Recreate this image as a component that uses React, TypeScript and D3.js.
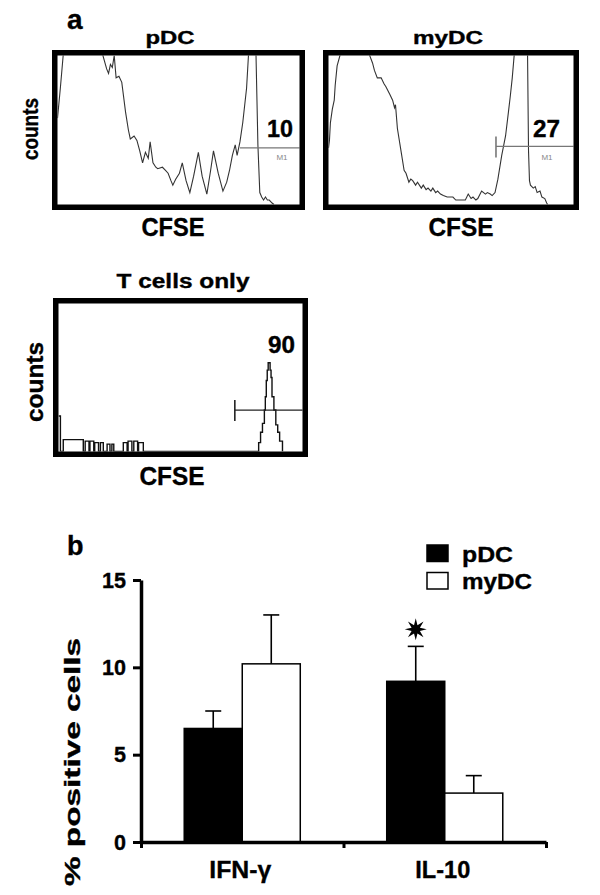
import React, { useRef, useEffect } from "react";
import * as d3 from "d3";

// CFSE histograms: [channel 0-256, counts as % of plot height (>100 = off scale)]
const pdcHist: [number, number][] = [
  [0, 58], [3, 78], [6, 100], [8, 125], [24, 130], [45, 125], [48, 100], [52, 91], [54, 88], [56, 94],
  [58, 92], [60, 100], [62, 85], [65, 86], [68, 82], [72, 62], [75, 50], [77, 44], [81, 46], [84, 43],
  [87, 36], [90, 28], [93, 35], [96, 31], [98, 42], [101, 28], [104, 25], [106, 24], [111, 25], [114, 23],
  [117, 21], [120, 16], [122, 13], [125, 17], [129, 21], [132, 28], [136, 16], [140, 8], [144, 19], [149, 35],
  [153, 19], [158, 7], [162, 23], [165, 36], [170, 21], [175, 9], [179, 15], [182, 23], [185, 33], [188, 40],
  [190, 33], [193, 42], [196, 55], [200, 78], [202, 100], [204, 125], [208, 125], [210, 100], [211, 70], [212, 40],
  [214, 8], [216, 5], [218, 3], [220, 5], [222, 3], [224, 3], [227, 1], [229, 0],
];

const mydcHist: [number, number][] = [
  [0, 38], [1, 43], [2, 55], [4, 64], [6, 70], [7, 80], [9, 93], [12, 100], [15, 125], [33, 130],
  [41, 125], [43, 100], [46, 95], [48, 90], [51, 85], [55, 85], [58, 81], [60, 79], [64, 74], [67, 70],
  [69, 65], [70, 67], [72, 51], [76, 35], [79, 23], [81, 21], [84, 15], [86, 17], [88, 16], [91, 13],
  [93, 15], [97, 11], [99, 13], [102, 10], [104, 11], [107, 9], [109, 11], [112, 8], [114, 9], [117, 7],
  [120, 6], [124, 5], [127, 5], [130, 5], [133, 3], [135, 3], [140, 3], [143, 3], [146, 7], [149, 4],
  [151, 5], [154, 3], [156, 4], [160, 9], [164, 7], [166, 8], [169, 7], [171, 6], [174, 8], [177, 17],
  [181, 33], [185, 46], [188, 62], [190, 73], [192, 85], [194, 100], [197, 125], [205, 125], [208, 100], [209, 36],
  [210, 16], [211, 13], [214, 11], [216, 12], [218, 8], [221, 9], [223, 5], [226, 4], [228, 1], [229, 0],
];

const tcellHist: [number, number][] = [
  [0, 24], [2, 0], [5, 8], [26, 0], [28, 7], [32, 0], [33, 7], [37, 0], [38, 6], [42, 0],
  [44, 6], [47, 0], [51, 5], [54, 0], [56, 5], [58, 0], [68, 6], [72, 0], [73, 7], [77, 0],
  [79, 7], [83, 0], [84, 6], [89, 0], [208, 0], [210, 6], [212, 13], [214, 19], [216, 28], [217, 37],
  [218, 48], [219, 55], [220, 60], [222, 55], [223, 50], [224, 37], [226, 28], [228, 18], [230, 13], [232, 7],
  [235, 0],
];

const panelTitles = ["pDC", "myDC", "T cells only"];
const gatePercents = ["10", "27", "90"];
const gateStarts = [193, 175, 185];
const gateLevels = [38, 39, 28];

// bar chart (panel b)
const cytokines = ["IFN-γ", "IL-10"];
const groups = ["pDC", "myDC"];
const pdcMeans = [6.5, 9.2];
const pdcErrors = [1.0, 2.0];
const mydcMeans = [10.2, 2.8];
const mydcErrors = [2.8, 1.0];
const pdcSignificant = [false, true];
const yTicks = [0, 5, 10, 15];

const FONT = "'Liberation Sans', Arial, Helvetica, sans-serif";

const addText = (sel: any, t: string, x: number, y: number, size: number, opts: any = {}) => {
  const el = sel.append("text")
    .attr("x", x)
    .attr("y", y)
    .style("font-size", `${size}px`)
    .style("font-weight", opts.weight || "bold")
    .style("font-family", FONT)
    .attr("fill", opts.fill || "#000")
    .attr("text-anchor", opts.anchor || "start")
    .text(t);
  if (!opts.weight) el.attr("stroke", "#000").attr("stroke-width", 0.35);
  if (opts.len) el.attr("textLength", opts.len).attr("lengthAdjust", "spacingAndGlyphs");
  if (opts.rotate) el.attr("transform", `rotate(-90, ${x}, ${y})`);
  return el;
};

const App = () => {
  const svgRef = useRef<SVGSVGElement>(null);

  useEffect(() => {
    const svg = d3.select(svgRef.current);
    svg.selectAll("*").remove();

    // ---------- panel a: histograms ----------
    const panels = [
      { box: [52, 50, 305, 210], data: pdcHist, step: false, lineColor: "#333", gateColor: "#777", tick: false,
        title: [170, 44, 18, 49], cfse: [173, 236, 25, 63], pct: [293, 137, 23, 26], m1: [282, 160] },
      { box: [323, 50, 579, 210], data: mydcHist, step: false, lineColor: "#333", gateColor: "#777", tick: true,
        title: [448, 44, 18, 70], cfse: [461, 236, 25, 65], pct: [560, 137, 23, 27], m1: [547, 160] },
      { box: [53, 298, 308, 457], data: tcellHist, step: true, lineColor: "#111", gateColor: "#222", tick: true,
        title: [183, 288, 20, 133], cfse: [172, 485, 25, 65], pct: [295, 353, 23, 27], m1: null },
    ];
    const bw = 5.5;

    panels.forEach((p, i) => {
      const [x0, y0, x1, y1] = p.box;
      const g = svg.append("g");
      const x = d3.scaleLinear().domain([0, 256]).range([x0 + bw, x1 - bw]);
      const y = d3.scaleLinear().domain([0, 100]).range([y1 - bw, y0 + bw]);

      const clipId = `clip-${i}`;
      svg.append("clipPath").attr("id", clipId)
        .append("rect")
        .attr("x", x0 + bw).attr("y", y0 + bw)
        .attr("width", x1 - x0 - 2 * bw).attr("height", y1 - y0 - 2 * bw);

      const line = d3.line<[number, number]>()
        .x(d => x(d[0]))
        .y(d => y(d[1]))
        .curve(p.step ? d3.curveStepAfter : d3.curveLinear);

      g.append("path")
        .datum(p.data)
        .attr("clip-path", `url(#${clipId})`)
        .attr("fill", "none")
        .attr("stroke", p.lineColor)
        .attr("stroke-width", p.step ? 1.4 : 1.1)
        .attr("d", line);

      // gate marker
      const gy = y(gateLevels[i]);
      g.append("line")
        .attr("x1", x(gateStarts[i])).attr("x2", x(256))
        .attr("y1", gy).attr("y2", gy)
        .attr("stroke", p.gateColor).attr("stroke-width", 1.2);
      if (p.tick) {
        g.append("line")
          .attr("x1", x(gateStarts[i])).attr("x2", x(gateStarts[i]))
          .attr("y1", gy - 10).attr("y2", gy + 11)
          .attr("stroke", p.gateColor).attr("stroke-width", 1.6);
      }
      if (p.m1) {
        addText(g, "M1", p.m1[0], p.m1[1], 8, { anchor: "middle", weight: "normal", fill: "#888" });
      }

      g.append("rect")
        .attr("x", x0 + bw / 2).attr("y", y0 + bw / 2)
        .attr("width", x1 - x0 - bw).attr("height", y1 - y0 - bw)
        .attr("fill", "none").attr("stroke", "#000").attr("stroke-width", bw);

      addText(g, panelTitles[i], p.title[0], p.title[1], p.title[2], { anchor: "middle", len: p.title[3] });
      addText(g, "CFSE", p.cfse[0], p.cfse[1], p.cfse[2], { anchor: "middle", len: p.cfse[3] });
      addText(g, gatePercents[i], p.pct[0], p.pct[1], p.pct[2], { anchor: "end", len: p.pct[3] });
    });

    addText(svg, "a", 67, 29, 28);
    addText(svg, "counts", 38, 129, 22, { anchor: "middle", len: 62, rotate: true });
    addText(svg, "counts", 43, 382, 23, { anchor: "middle", len: 80, rotate: true });

    // ---------- panel b: bar chart ----------
    const left = 141, right = 546, top = 580, bottom = 842;
    const y = d3.scaleLinear().domain([0, 15]).range([bottom, top]);
    const xBand = d3.scaleBand().domain(cytokines).range([left, right]).padding(0);
    const xSub = d3.scaleBand().domain(groups).range([0, xBand.bandwidth()])
      .paddingInner(0).paddingOuter(0.745);
    const xEdges = d3.scaleLinear().domain([0, cytokines.length]).range([left, right]);

    const b = svg.append("g");

    const rows = cytokines.flatMap((c, i) => [
      { c, s: "pDC", v: pdcMeans[i], e: pdcErrors[i], star: pdcSignificant[i] },
      { c, s: "myDC", v: mydcMeans[i], e: mydcErrors[i], star: false },
    ]);

    const capW = 16;
    rows.forEach(r => {
      const bx = (xBand(r.c) as number) + (xSub(r.s) as number);
      const cx = bx + xSub.bandwidth() / 2;
      // error bar
      b.append("line").attr("x1", cx).attr("x2", cx)
        .attr("y1", y(r.v - r.e)).attr("y2", y(r.v + r.e))
        .attr("stroke", "#000").attr("stroke-width", 1.6);
      [r.v - r.e, r.v + r.e].forEach(v => {
        b.append("line").attr("x1", cx - capW / 2).attr("x2", cx + capW / 2)
          .attr("y1", y(v)).attr("y2", y(v))
          .attr("stroke", "#000").attr("stroke-width", 1.6);
      });
      b.append("rect")
        .attr("x", bx).attr("y", y(r.v))
        .attr("width", xSub.bandwidth()).attr("height", y(0) - y(r.v))
        .attr("fill", r.s === "pDC" ? "#000" : "#fff")
        .attr("stroke", "#000").attr("stroke-width", 1.5);
      if (r.star) {
        const pts = d3.range(16).map(k => {
          const a = (k * Math.PI) / 8;
          const rad = k % 2 === 0 ? 11 : 4.5;
          return [cx + rad * Math.sin(a), y(r.v + r.e) - 17 - rad * Math.cos(a)];
        });
        b.append("path").attr("d", "M" + pts.join("L") + "Z").attr("fill", "#000");
      }
    });

    // axes
    const yAxis = b.append("g")
      .attr("transform", `translate(${left},0)`)
      .call(d3.axisLeft(y).tickValues(yTicks).tickSize(8).tickSizeOuter(0).tickFormat(() => ""));
    yAxis.select(".domain").attr("stroke-width", 3.5);
    yAxis.selectAll(".tick line").attr("stroke-width", 3);
    yTicks.forEach(t => {
      const s = String(t);
      addText(b, s, left - 15, y(t) + 7.5, 22, { anchor: "end", len: s.length * 12 });
    });

    const xAxis = b.append("g")
      .attr("transform", `translate(0,${bottom})`)
      .call(d3.axisBottom(xEdges).tickValues([0, 1, 2]).tickSize(6).tickSizeOuter(0).tickFormat(() => ""));
    xAxis.select(".domain").attr("stroke-width", 3.5);
    xAxis.selectAll(".tick line").attr("stroke-width", 3);

    cytokines.forEach((c, i) => {
      addText(b, c, (xBand(c) as number) + xBand.bandwidth() / 2 - 2, 878, 24, { anchor: "middle", len: i === 0 ? 62 : 55 });
    });

    addText(svg, "% positive cells", 80, 762, 22, { anchor: "middle", len: 248, rotate: true });
    addText(svg, "b", 67, 555, 27);

    // legend
    const leg = svg.append("g");
    groups.forEach((s, i) => {
      leg.append("rect")
        .attr("x", 427).attr("y", 545 + i * 27.5)
        .attr("width", 21).attr("height", 16.5)
        .attr("fill", s === "pDC" ? "#000" : "#fff")
        .attr("stroke", "#000").attr("stroke-width", 1.5);
      addText(leg, s, 462, 562 + i * 27, 22, { len: i === 0 ? 51 : 70 });
    });
  }, []);

  return (
    <svg
      ref={svgRef}
      width={600}
      height={895}
      style={{ position: "absolute", left: 0, top: 0, background: "#fff" }}
    ></svg>
  );
};

export default App;
